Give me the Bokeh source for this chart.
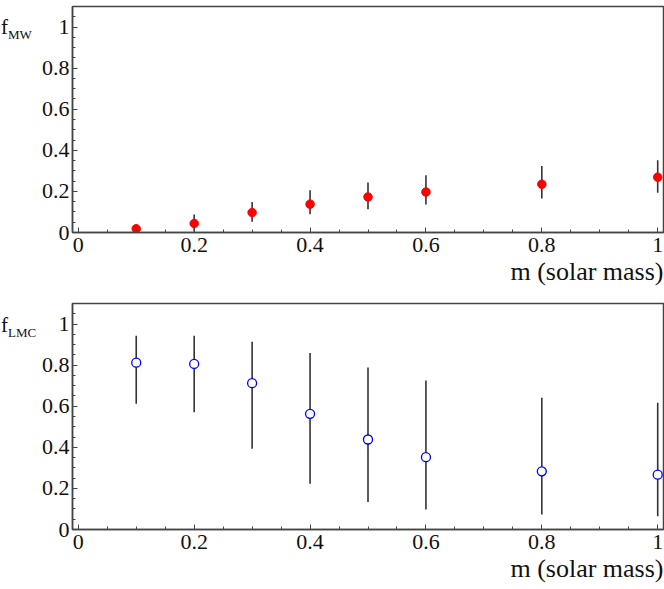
from bokeh.plotting import figure
from bokeh.layouts import column, row
from bokeh.models import ColumnDataSource, Range1d, Title, SingleIntervalTicker, Div
from bokeh.embed import file_html
from bokeh.resources import INLINE

# ---- data ----
m = [0.1, 0.2, 0.3, 0.4, 0.5, 0.6, 0.8, 1.0]
f_mw = [0.018, 0.044, 0.097, 0.138, 0.173, 0.197, 0.235, 0.269]
f_mw_lo = [0.0, 0.005, 0.052, 0.089, 0.113, 0.136, 0.165, 0.193]
f_mw_hi = [0.038, 0.088, 0.149, 0.206, 0.243, 0.279, 0.324, 0.352]
f_lmc = [0.812, 0.806, 0.712, 0.563, 0.438, 0.352, 0.283, 0.267]
f_lmc_lo = [0.612, 0.571, 0.393, 0.223, 0.134, 0.097, 0.073, 0.065]
f_lmc_hi = [0.943, 0.943, 0.914, 0.859, 0.789, 0.725, 0.641, 0.617]
tick_step = 0.2
x_label = "m (solar mass)"
y_symbol = "f"
y_subs = ["MW", "LMC"]

FONT = "Liberation Serif"
FRAME_COLOR = "#444444"
TEXT_COLOR = "#111111"
LABEL_W = 38
MAIN_W = 664 - LABEL_W


def make_panel(height, top, bottom, ys, lo, hi, filled):
    p = figure(width=MAIN_W, height=height, output_backend="svg", toolbar_location=None,
               x_range=Range1d(-0.01, 1.01), y_range=Range1d(0, 1.1),
               min_border_left=31, min_border_right=1,
               min_border_top=top, min_border_bottom=bottom)
    p.grid.visible = False
    p.outline_line_color = FRAME_COLOR
    p.outline_line_width = 1.5
    for ax in (p.xaxis[0], p.yaxis[0]):
        ax.ticker = SingleIntervalTicker(interval=tick_step, num_minor_ticks=4)
        ax.axis_line_color = FRAME_COLOR
        ax.axis_line_width = 1.5
        ax.major_tick_in = 5
        ax.major_tick_out = 0
        ax.minor_tick_in = 3
        ax.minor_tick_out = 0
        ax.major_tick_line_color = FRAME_COLOR
        ax.minor_tick_line_color = FRAME_COLOR
        ax.major_label_text_font = FONT
        ax.major_label_text_font_size = "22px"
        ax.major_label_text_color = TEXT_COLOR
        ax.major_label_overrides = {0: "0", 1: "1"}
    p.xaxis.major_label_standoff = 5
    p.yaxis.major_label_standoff = 3

    src = ColumnDataSource(dict(m=m, y=ys, lo=lo, hi=hi))
    p.segment(x0="m", y0="lo", x1="m", y1="hi", source=src,
              line_color="#333333", line_width=1.6)
    if filled:
        p.scatter(x="m", y="y", source=src, size=8.5, fill_color="#ff0000",
                  line_color="#ff0000")
    else:
        p.scatter(x="m", y="y", source=src, size=9, fill_color="white",
                  line_color="#0000ff", line_width=1.3)

    p.add_layout(Title(text=x_label, align="right", standoff=0,
                       text_font=FONT, text_font_size="26px",
                       text_font_style="normal", text_color=TEXT_COLOR), "below")
    return p


def make_ylabel(height, top, sub):
    html = (
        f'<div style="position:relative;width:{LABEL_W}px;height:{height}px;">'
        f'<div style="position:absolute;left:1px;top:{top}px;white-space:nowrap;'
        f'font-family:\'Liberation Serif\',serif;font-size:21px;line-height:21px;'
        f'color:{TEXT_COLOR};">{y_symbol}'
        f'<span style="font-size:13px;position:relative;top:5px;">{sub}</span></div></div>'
    )
    return Div(text=html, width=LABEL_W, height=height, margin=(0, 0, 0, 0),
               styles={"overflow": "visible"})


H1, T1, B1 = 290, 6, 58
H2, T2, B2 = 299, 13, 60
p1 = make_panel(H1, T1, B1, f_mw, f_mw_lo, f_mw_hi, True)
p2 = make_panel(H2, T2, B2, f_lmc, f_lmc_lo, f_lmc_hi, False)
d1 = make_ylabel(H1, 17, y_subs[0])
d2 = make_ylabel(H2, 25, y_subs[1])

layout = column(row(d1, p1, spacing=0), row(d2, p2, spacing=0), spacing=0)
open("out.html", "w").write(file_html(layout, INLINE))
